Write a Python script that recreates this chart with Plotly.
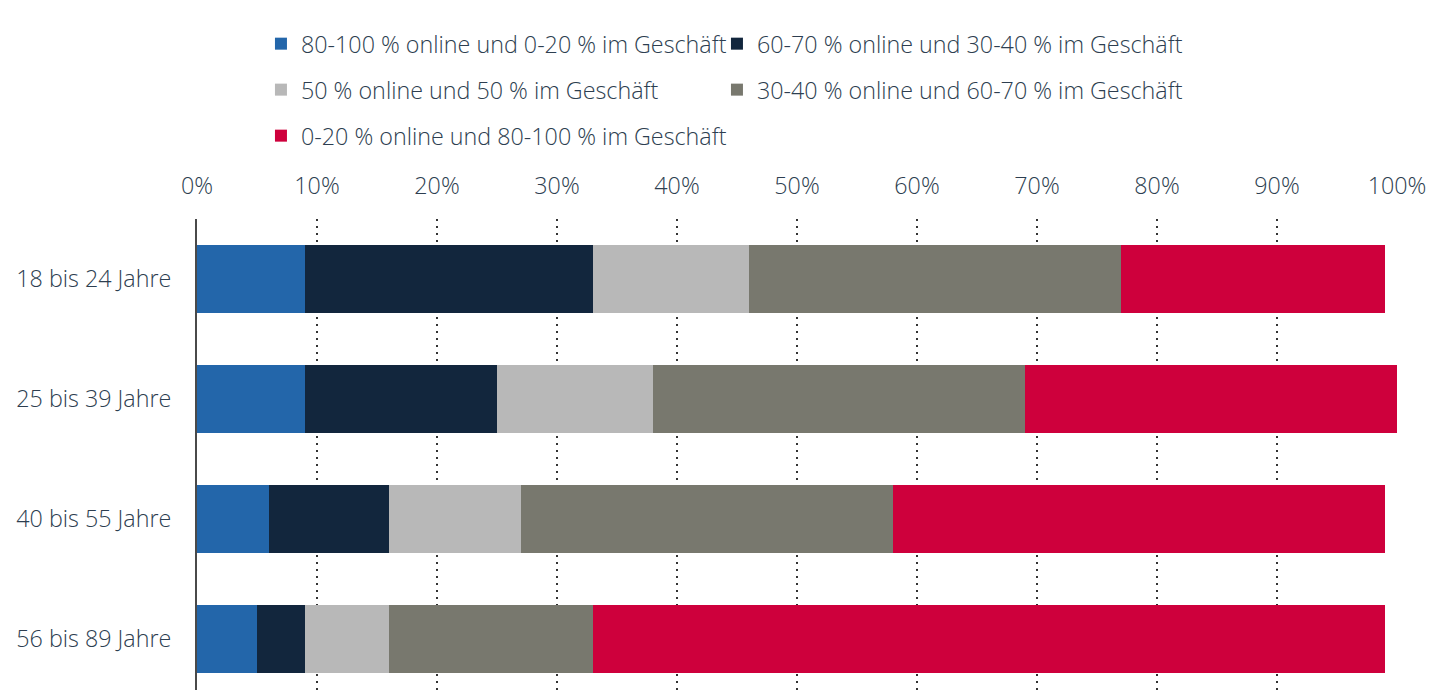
import plotly.graph_objects as go

categories = ['18 bis 24 Jahre', '25 bis 39 Jahre', '40 bis 55 Jahre', '56 bis 89 Jahre']

series_names = [
    '80-100 % online und 0-20 % im Geschäft',
    '60-70 % online und 30-40 % im Geschäft',
    '50 % online und 50 % im Geschäft',
    '30-40 % online und 60-70 % im Geschäft',
    '0-20 % online und 80-100 % im Geschäft',
]
online_high = [9, 9, 6, 5]
online_mid = [24, 16, 10, 4]
half_half = [13, 13, 11, 7]
store_mid = [31, 31, 31, 17]
store_high = [22, 31, 41, 66]

colors = ['#2366aa', '#12263d', '#b8b8b8', '#78786e', '#ce003c']
# one legend box per entry, laid out as a 2-column grid
legend_ids = ['legend', 'legend2', 'legend3', 'legend4', 'legend5']

font_color = '#2d3e50'
base_font = dict(family='Open Sans', size=23.3, color=font_color, weight=300)

fig = go.Figure()

for name, vals, col, lg in zip(series_names,
                               [online_high, online_mid, half_half, store_mid, store_high],
                               colors, legend_ids):
    fig.add_trace(go.Bar(
        y=categories,
        x=vals,
        name=name,
        orientation='h',
        marker=dict(color=col, line=dict(width=0)),
        width=0.57,
        legend=lg,
    ))

legend_common = dict(
    orientation='h',
    xanchor='left',
    yanchor='middle',
    font=base_font,
    bgcolor='rgba(0,0,0,0)',
)
col_x = [0.0533, 0.4333]
row_y = [1.3715, 1.2739, 1.1762]

fig.update_layout(
    barmode='stack',
    width=1426,
    height=682,
    margin=dict(l=189, r=37, t=211, b=0, autoexpand=False),
    paper_bgcolor='white',
    plot_bgcolor='white',
    font=base_font,
    legend=dict(legend_common, x=col_x[0], y=row_y[0]),
    legend2=dict(legend_common, x=col_x[1], y=row_y[0]),
    legend3=dict(legend_common, x=col_x[0], y=row_y[1]),
    legend4=dict(legend_common, x=col_x[1], y=row_y[1]),
    legend5=dict(legend_common, x=col_x[0], y=row_y[2]),
    xaxis=dict(
        side='top',
        range=[0, 100],
        tickvals=[0, 10, 20, 30, 40, 50, 60, 70, 80, 90, 100],
        ticktext=[f'{v}%' for v in range(0, 101, 10)],
        showgrid=True,
        gridcolor='#333333',
        griddash='2px,5px',
        gridwidth=2,
        zeroline=False,
        showline=False,
        ticks='',
        ticklabelstandoff=19,
        tickfont=base_font,
    ),
    yaxis=dict(
        categoryorder='array',
        categoryarray=categories,
        range=[3.425, -0.5],
        showgrid=False,
        showline=True,
        linecolor='#4a4a4a',
        linewidth=2,
        ticks='',
        ticklabelstandoff=19,
        tickfont=base_font,
    ),
    showlegend=True,
)

fig.write_html('out.html')
